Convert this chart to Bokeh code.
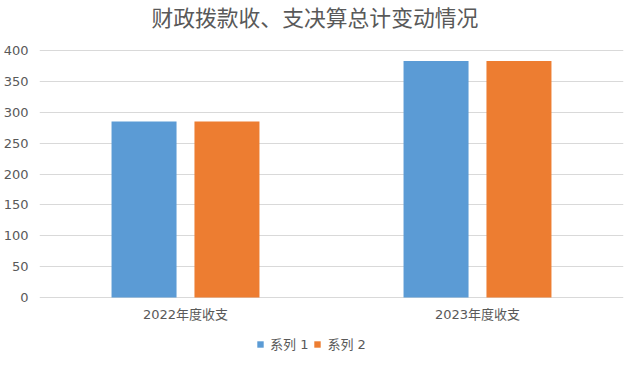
from bokeh.plotting import figure
from bokeh.models import Range1d, FactorRange, Legend, LegendItem, ColumnDataSource, Label
from bokeh.core.properties import value
from bokeh.transform import dodge
from bokeh.embed import file_html
from bokeh.resources import INLINE

title_text = "财政拨款收、支决算总计变动情况"
categories = ["2022年度收支", "2023年度收支"]
series1 = [285, 383]
series2 = [285, 383]
series_names = ["系列 1", "系列 2"]
y_ticks = [0, 50, 100, 150, 200, 250, 300, 350, 400]

FONT = "DejaVu Sans, Noto Sans CJK SC"
GRAY = "#595959"

# layout: value axis 0..400 spans 247 px; frame also holds title (50 px above)
# and category labels + legend (56 px below)
PX = 247 / 400.0
Y_TOP = 400 + 50 / PX
Y_BOT = -56 / PX

src = ColumnDataSource(dict(cat=categories, s1=series1, s2=series2,
                            base=[0] * len(categories)))

p = figure(frame_width=584, frame_height=353, output_backend="svg", toolbar_location=None,
           x_range=FactorRange(*categories, range_padding=0),
           y_range=Range1d(Y_BOT, Y_TOP),
           min_border_left=30, min_border_right=10, min_border_top=0,
           min_border_bottom=0)

r1 = p.vbar(x=dodge("cat", -0.142, range=p.x_range), top="s1", width=0.2226,
            source=src, fill_color="#5b9bd5", line_color=None)
r2 = p.vbar(x=dodge("cat", 0.142, range=p.x_range), top="s2", width=0.2226,
            source=src, fill_color="#ed7d31", line_color=None)

p.outline_line_color = None
p.xgrid.grid_line_color = None
p.ygrid.grid_line_color = "#d9d9d9"
p.ygrid.ticker = y_ticks
p.yaxis.ticker = y_ticks
p.yaxis.axis_line_color = None
p.yaxis.major_tick_line_color = None
p.yaxis.minor_tick_line_color = None
p.yaxis.major_label_text_font = FONT
p.yaxis.major_label_text_font_size = "13px"
p.yaxis.major_label_text_color = GRAY
p.yaxis.major_label_standoff = 5

# category axis: labels drawn just under the zero line (the zero gridline is the axis line)
p.xaxis.visible = False
p.text(x="cat", y="base", text="cat", source=src, y_offset=9,
       text_align="center", text_baseline="top", text_font=value(FONT),
       text_font_size="13px", text_color=GRAY)

title = Label(x=0.943, y=400 + 34 / PX, text=title_text, text_align="center",
              text_baseline="middle", text_font="Noto Sans CJK SC",
              text_font_size="21.8px", text_color=GRAY)
p.add_layout(title)

legend = Legend(items=[LegendItem(label=series_names[0], renderers=[r1]),
                       LegendItem(label=series_names[1], renderers=[r2])],
                orientation="horizontal", location=(217, 0),
                border_line_color=None, background_fill_alpha=0,
                glyph_width=8, glyph_height=8, label_height=12, label_text_font=FONT,
                label_text_font_size="13px", label_text_color=GRAY,
                label_standoff=6, spacing=5, padding=1, margin=0)
p.add_layout(legend, "center")

open("out.html", "w").write(file_html(p, INLINE))
